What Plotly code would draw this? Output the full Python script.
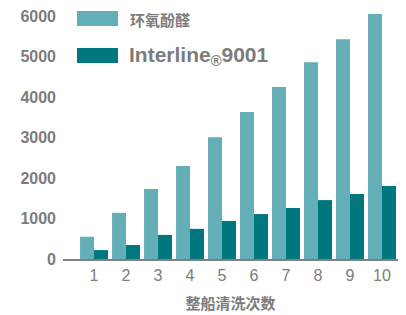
import plotly.graph_objects as go

washes = [1, 2, 3, 4, 5, 6, 7, 8, 9, 10]
epoxy = [550, 1140, 1730, 2300, 3010, 3630, 4250, 4860, 5430, 6050]
interline = [220, 345, 595, 745, 940, 1110, 1260, 1455, 1605, 1800]
y_ticks = [0, 1000, 2000, 3000, 4000, 5000, 6000]

C_EPOXY = "#64AFB7"
C_INTER = "#00777F"
GRAY = "#7c7c7c"

# The page body has an 8px margin, so the figure is 8px smaller than the window.
W, H = 398, 307
L, R, T, B = 55, 8, 2, 56
PW, PH = W - L - R, H - T - B


def px(x):  # viewport x -> paper
    return (x - 8 - L) / PW


def py(y):  # viewport y -> paper
    return (H - B - (y - 8)) / PH


fig = go.Figure()
fig.add_bar(x=washes, y=epoxy, name="环氧酚醛", marker_color=C_EPOXY, marker_line_width=0, showlegend=False)
fig.add_bar(x=washes, y=interline, name="Interline®9001", marker_color=C_INTER, marker_line_width=0, showlegend=False)

fig.update_layout(
    width=W, height=H,
    margin=dict(l=L, r=R, t=T, b=B, autoexpand=False),
    plot_bgcolor="white", paper_bgcolor="white",
    barmode="group", bargap=0.125, bargroupgap=0,
    font=dict(family="Liberation Sans, Arial, sans-serif", color=GRAY),
    xaxis=dict(
        range=[0.03, 10.5], tickvals=washes, ticktext=[str(w) for w in washes],
        showgrid=False, zeroline=False, showline=True, linecolor="#808080", linewidth=2,
        ticks="", ticklabelstandoff=1,
        tickfont=dict(size=16, color=GRAY),
        title=dict(text="<b>整船清洗次数</b>", font=dict(size=15, color=GRAY,
                   family="Noto Sans CJK SC, sans-serif"), standoff=15),
    ),
    yaxis=dict(
        range=[0, 6150], tickvals=y_ticks, ticktext=[f"<b>{v}</b>" for v in y_ticks],
        showgrid=False, zeroline=False, showline=False, ticks="",
        ticklabelstandoff=6, ticklabeloverflow="allow",
        tickfont=dict(size=16, color=GRAY),
    ),
)

# legend drawn manually
fig.add_shape(type="rect", xref="paper", yref="paper", x0=px(77), x1=px(118),
              y0=py(26), y1=py(11), fillcolor=C_EPOXY, line_width=0)
fig.add_shape(type="rect", xref="paper", yref="paper", x0=px(77), x1=px(118),
              y0=py(63), y1=py(48), fillcolor=C_INTER, line_width=0)
fig.add_annotation(xref="paper", yref="paper", x=px(128), y=py(19),
                   xanchor="left", yanchor="middle", showarrow=False,
                   text="<b>环氧酚醛</b>", font=dict(size=15, color=GRAY, family="Noto Sans CJK SC, sans-serif"))
fig.add_annotation(xref="paper", yref="paper", x=px(127), y=py(56),
                   xanchor="left", yanchor="middle", showarrow=False,
                   text="<b>Interline<sub>®</sub>9001</b>", font=dict(size=21, color=GRAY))

fig.write_html("out.html")
